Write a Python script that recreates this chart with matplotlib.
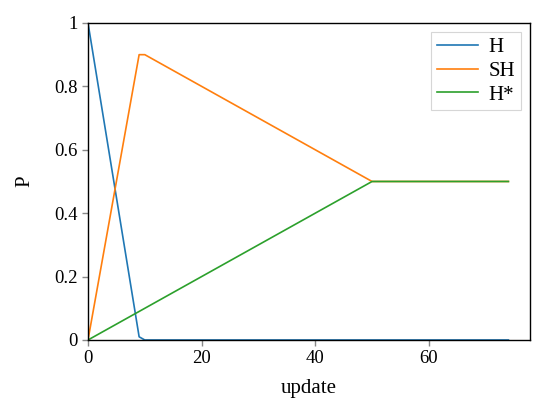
import matplotlib
matplotlib.use("Agg")
import matplotlib.pyplot as plt

update = [0, 9, 10, 50, 74]
H = [1.0, 0.01, 0.0, 0.0, 0.0]
SH = [0.0, 0.9, 0.9, 0.5, 0.5]
Hstar = [0.0, 0.09, 0.1, 0.5, 0.5]
labels = ["H", "SH", "H*"]
colors = ["#1f77b4", "#ff7f0e", "#2ca02c"]

plt.rcParams['font.family'] = ['Liberation Serif', 'DejaVu Serif']
plt.rcParams['font.size'] = 13.5

fig = plt.figure(figsize=(5.5, 4.08), dpi=100)
ax = fig.add_axes([0.16, 0.1667, 0.8036, 0.777])
for y, lab, c in zip([H, SH, Hstar], labels, colors):
    ax.plot(update, y, color=c, lw=1.2, label=lab)
ax.set_xlim(0, 77.8)
ax.set_ylim(0, 1)
ax.set_xticks([0, 20, 40, 60])
ax.set_yticks([0, 0.2, 0.4, 0.6, 0.8, 1])
ax.set_yticklabels(["0", "0.2", "0.4", "0.6", "0.8", "1"])
ax.tick_params(direction='out', color='#888888', length=4, width=1, labelsize=13.5)
for s in ax.spines.values():
    s.set_color('black')
    s.set_linewidth(1.0)
ax.set_xlabel("update", fontsize=15, labelpad=8)
ax.set_ylabel("P", fontsize=15, labelpad=14)
leg = ax.legend(loc='upper right', fancybox=False, edgecolor='#cccccc', handlelength=2.0,
                fontsize=15, labelspacing=0.2, borderaxespad=0.45, handletextpad=0.5,
                borderpad=0.25)
leg.get_frame().set_linewidth(0.8)
fig.savefig("out.png", dpi=100)
